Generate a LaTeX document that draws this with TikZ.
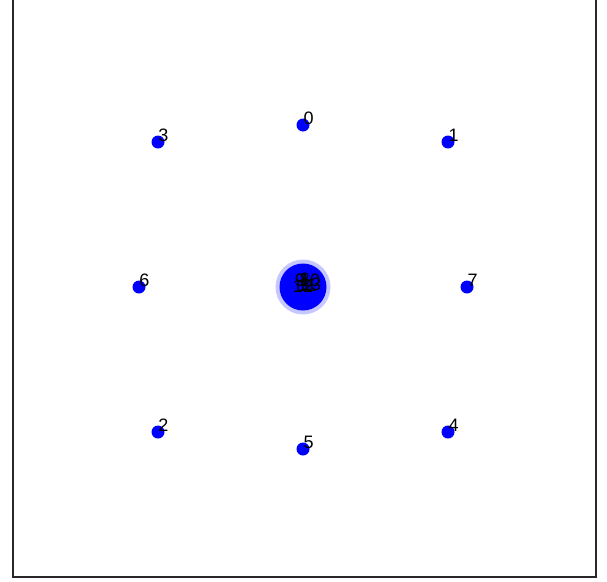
\documentclass[tikz,border=0pt]{standalone}
\usepackage{fontspec}
\setmainfont{Liberation Sans}
\usetikzlibrary{positioning}
\definecolor{azul}{RGB}{0,0,255}
\definecolor{marco}{RGB}{40,40,40}

\begin{document}
\begin{tikzpicture}[x=1pt,y=-1pt,font=\fontsize{18}{20}\selectfont,
  pt/.style={circle,fill=azul,inner sep=0pt,minimum size=13pt},
  lab/.style={inner sep=0pt,anchor=center}]
  \useasboundingbox (0,0) rectangle (607,581);
  \draw[marco,line width=1.3pt] (13,-5) -- (13,577) -- (596,577) -- (596,-5);
  % centre
  \fill[azul!22] (303,287) circle (27.5);
  \node[circle,fill=azul,inner sep=0pt,minimum size=47pt] (c) at (303,287) {};
  \node[lab] (c8) at (305,279) {8};
  \node[lab] (c9) at (300,280) {9};
  \node[lab] (c10) at (310,280) {10};
  \node[lab] (c11) at (307,285) {11};
  \node[lab] (c12) at (303,286) {12};
  \node[lab] (c13) at (311,284) {13};
  % outer ring
  \node[pt] (n0) at (303,125) {};
  \node[pt] (n1) at (448,142) {};
  \node[pt] (n2) at (158,432) {};
  \node[pt] (n3) at (158,142) {};
  \node[pt] (n4) at (448,432) {};
  \node[pt] (n5) at (303,449) {};
  \node[pt] (n6) at (139,287) {};
  \node[pt] (n7) at (467,287) {};
  \foreach \i in {0,...,7}
    \node[lab] (l\i) at ([xshift=5.5pt,yshift=7pt]n\i) {\i};
\end{tikzpicture}
\end{document}
